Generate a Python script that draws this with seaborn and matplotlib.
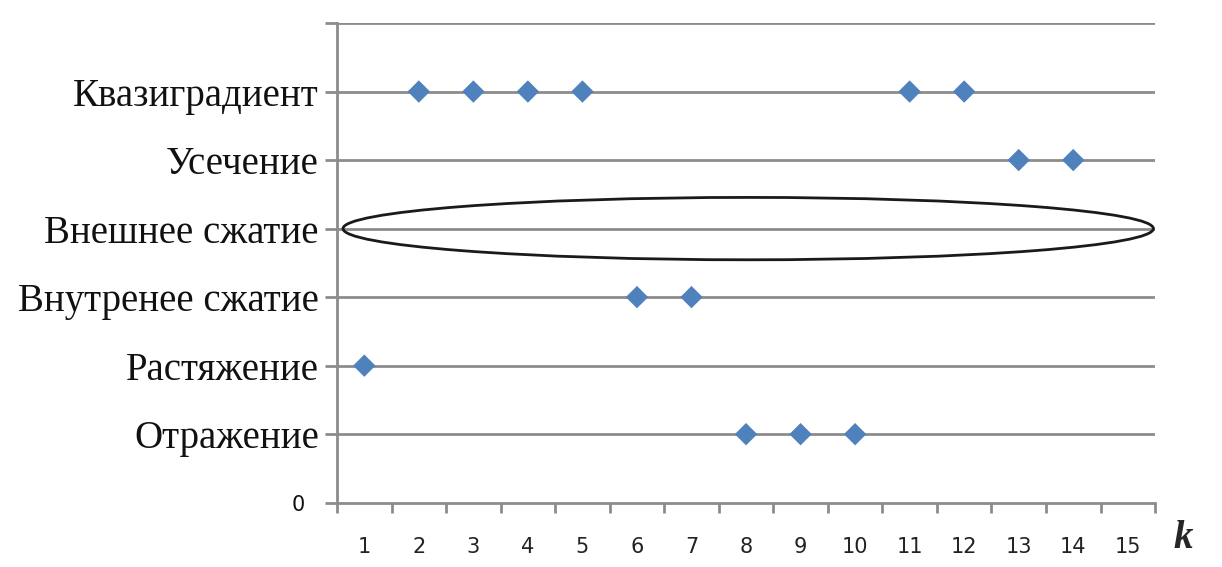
import matplotlib
matplotlib.use("Agg")
import matplotlib.pyplot as plt
from matplotlib.patches import Ellipse
import seaborn as sns
import pandas as pd

# Метод на каждой итерации k
k_values = [1, 2, 3, 4, 5, 6, 7, 8, 9, 10, 11, 12, 13, 14]
method_level = [2, 6, 6, 6, 6, 3, 3, 1, 1, 1, 6, 6, 5, 5]
k_ticks = list(range(1, 16))
level_labels = ["0\u2007", "Отражение", "Растяжение", "Внутренее сжатие",
                "Внешнее сжатие", "Усечение", "Квазиградиент", ""]

df = pd.DataFrame({"k": k_values, "level": method_level})

sns.set_style("white")
fig = plt.figure(figsize=(12.22, 5.67), dpi=100)
ax = fig.add_axes([0.2758, 0.1134, 0.6694, 0.846])

grid_c = "#8c8c8c"
for lv in range(1, 8):
    ax.axhline(lv, color=grid_c, lw=2, zorder=1)

sns.scatterplot(data=df, x="k", y="level", marker="D", s=130,
                color="#4f81bd", edgecolor="none", ax=ax, zorder=3, legend=False)

ax.add_patch(Ellipse((8.04, 4.0), 14.86, 0.91, fill=False,
                     edgecolor="#1a1a1a", lw=2, zorder=2))

ax.set_xlim(0.5, 15.5)
ax.set_ylim(0, 7)

ax.set_xticks([x + 0.5 for x in range(0, 16)], minor=False)
ax.set_xticklabels([])
ax.set_xticks(k_ticks, minor=True)
ax.set_xticklabels([str(k) for k in k_ticks], minor=True,
                   family="DejaVu Sans", fontsize=15, color="#222222")
ax.tick_params(axis="x", which="major", bottom=True, direction="out", length=7,
               width=2, color=grid_c)
ax.tick_params(axis="x", which="minor", bottom=True, length=0, pad=25)

ax.set_yticks(range(0, 8))
ax.set_yticklabels(level_labels)
ax.tick_params(axis="y", left=True, direction="out", length=9, width=2,
               color=grid_c, pad=4)
for i, lab in enumerate(ax.get_yticklabels()):
    if i == 0:
        lab.set_family("DejaVu Sans")
        lab.set_fontsize(15)
    else:
        lab.set_family("Liberation Serif")
        lab.set_fontsize(28)
    lab.set_color("#111111")

for side in ["top", "right"]:
    ax.spines[side].set_visible(False)
for side in ["left", "bottom"]:
    ax.spines[side].set_color(grid_c)
    ax.spines[side].set_linewidth(2)

ax.set_xlabel("")
ax.set_ylabel("")
fig.text(0.968, 0.05, "k", family="Liberation Serif", style="italic",
         weight="bold", fontsize=28, ha="center", va="center")

fig.savefig("out.png", dpi=100)
